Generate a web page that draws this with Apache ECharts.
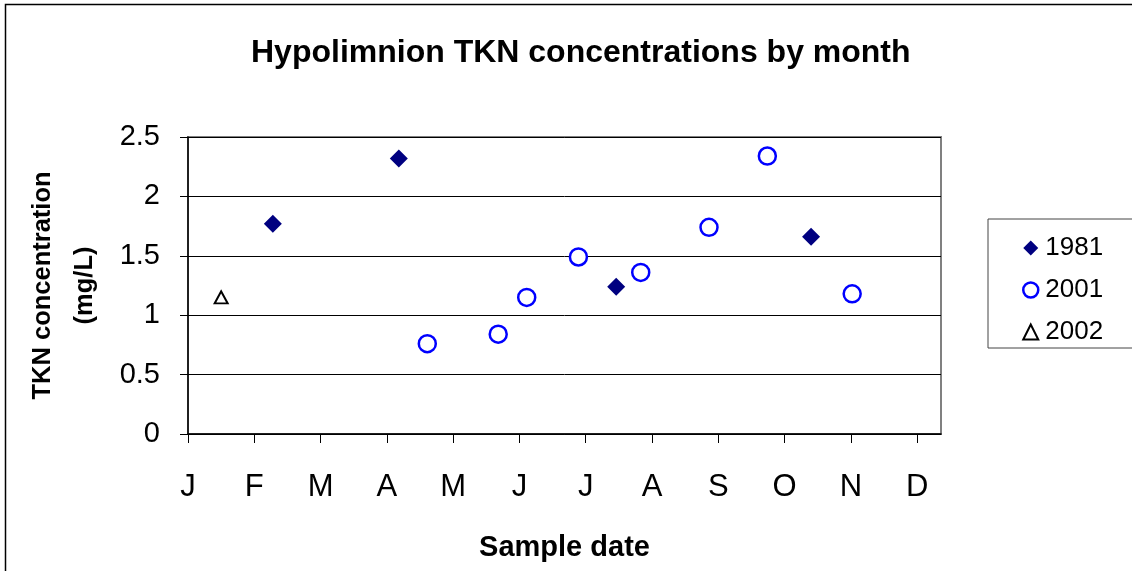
<!DOCTYPE html>
<html>
<head>
<meta charset="utf-8">
<script src="https://cdn.jsdelivr.net/npm/echarts@6/dist/echarts.min.js"></script>
<style>
  html, body { margin: 0; padding: 0; background: #fff; }
  #main { width: 1132px; height: 571px; }
</style>
</head>
<body>
<div id="main"></div>
<script>
  // month tick labels (x axis is in month units, 0 = start of Jan)
  const monthLabels = ['J', 'F', 'M', 'A', 'M', 'J', 'J', 'A', 'S', 'O', 'N', 'D']
  const monthTicks = [0, 1, 2, 3, 4, 5, 6, 7, 8, 9, 10, 11]
  const yTicks = [0, 0.5, 1, 1.5, 2, 2.5]

  // sample dates (month units) and TKN values (mg/L)
  const data1981 = [[1.28, 1.77], [3.18, 2.32], [6.46, 1.24], [9.40, 1.66]]
  const data2001 = [[3.61, 0.76], [4.68, 0.84], [5.11, 1.15], [5.89, 1.49], [6.83, 1.36],
                    [7.86, 1.74], [8.74, 2.34], [10.02, 1.18]]
  const data2002 = [[0.50, 1.15]]

  const font = '"Liberation Sans", Arial, sans-serif'
  const triPath = 'path://M0,20 L10,0 L20,20 Z'

  let myChart = echarts.init(document.getElementById('main'))
  let option = {
    backgroundColor: '#fff',
    animation: false,
    title: {
      text: 'Hypolimnion TKN concentrations by month',
      left: 246,
      top: 32,
      textStyle: { fontFamily: font, fontSize: 32, fontWeight: 'bold', color: '#000' }
    },
    graphic: [{
      type: 'rect',
      shape: { x: 5.5, y: 4.5, width: 1200, height: 700 },
      style: { fill: null, stroke: '#000', lineWidth: 1.5 },
      silent: true
    }],
    legend: {
      orient: 'vertical',
      left: 988,
      top: 219,
      padding: [16, 32, 3, 34],
      itemGap: 16,
      itemWidth: 15,
      itemHeight: 15,
      borderColor: '#444',
      borderWidth: 1,
      textStyle: { fontFamily: font, fontSize: 26, color: '#000', padding: [0, 0, 0, 2] },
      data: [
        { name: '1981', icon: 'diamond', itemStyle: { color: '#000080' } },
        { name: '2001', icon: 'circle', itemStyle: { color: '#fff', borderColor: '#0000ff', borderWidth: 2.5 } },
        { name: '2002', icon: triPath, itemStyle: { color: '#fff', borderColor: '#000', borderWidth: 2 } }
      ]
    },
    grid: {
      left: 188,
      right: 191,
      top: 137,
      bottom: 137,
      show: true,
      borderColor: '#808080',
      borderWidth: 2
    },
    xAxis: {
      type: 'value',
      min: 0,
      max: 11.36,
      name: 'Sample date',
      nameLocation: 'middle',
      nameGap: 99,
      nameTextStyle: { fontFamily: font, fontSize: 29, fontWeight: 'bold', color: '#000' },
      axisLine: { show: true, onZero: false, lineStyle: { color: '#000', width: 1.5 } },
      axisTick: { show: true, length: 9, customValues: monthTicks, lineStyle: { color: '#000' } },
      axisLabel: {
        customValues: monthTicks,
        formatter: v => monthLabels[Math.round(v)],
        margin: 38,
        fontFamily: font,
        fontSize: 31,
        color: '#000'
      },
      splitLine: { show: false }
    },
    yAxis: {
      type: 'value',
      min: 0,
      max: 2.5,
      interval: 0.5,
      name: 'TKN concentration\n(mg/L)',
      nameLocation: 'middle',
      nameGap: 82,
      nameTextStyle: { fontFamily: font, fontSize: 25.5, fontWeight: 'bold', color: '#000', lineHeight: 42 },
      axisLine: { show: true, lineStyle: { color: '#000', width: 1.5 } },
      axisTick: { show: true, length: 8, lineStyle: { color: '#000' } },
      axisLabel: {
        margin: 28,
        fontFamily: font,
        fontSize: 29,
        color: '#000',
        formatter: v => String(v)
      },
      splitLine: { show: true, lineStyle: { color: '#000', width: 1 } }
    },
    series: [
      {
        name: '1981',
        type: 'scatter',
        symbol: 'diamond',
        symbolSize: 18,
        itemStyle: { color: '#000080', opacity: 1 },
        data: data1981
      },
      {
        name: '2001',
        type: 'scatter',
        symbol: 'circle',
        symbolSize: 17,
        itemStyle: { color: '#fff', borderColor: '#0000ff', borderWidth: 2.5, opacity: 1 },
        data: data2001
      },
      {
        name: '2002',
        type: 'scatter',
        symbol: triPath,
        symbolSize: [13, 12],
        itemStyle: { color: '#fff', borderColor: '#000', borderWidth: 2, opacity: 1 },
        data: data2002
      }
    ]
  }
  myChart.setOption(option)
</script>
</body>
</html>
